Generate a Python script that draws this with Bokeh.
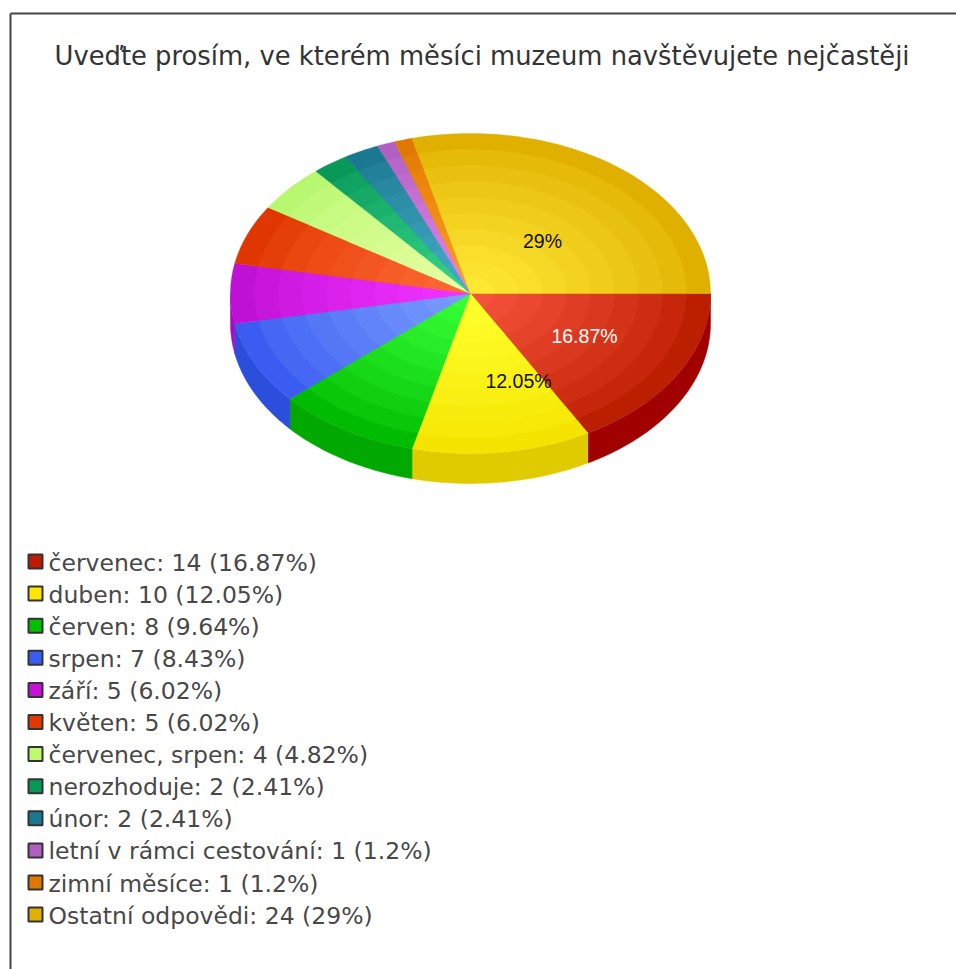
import math
from bokeh.plotting import figure
from bokeh.models import Range1d, ColumnDataSource
from bokeh.core.properties import value
from bokeh.embed import file_html
from bokeh.resources import INLINE

title = "Uveďte prosím, ve kterém měsíci muzeum navštěvujete nejčastěji"
categories = ["červenec", "duben", "červen", "srpen", "září", "květen", "červenec, srpen",
              "nerozhoduje", "únor", "letní v rámci cestování", "zimní měsíce", "Ostatní odpovědi"]
counts = [14, 10, 8, 7, 5, 5, 4, 2, 2, 1, 1, 24]
percents = ["16.87", "12.05", "9.64", "8.43", "6.02", "6.02", "4.82", "2.41", "2.41", "1.2", "1.2", "29"]
swatch_colors = ["#c01a00", "#ffe600", "#00c000", "#3a5cf5", "#c80fd8", "#e03a00", "#c0f870",
                 "#089858", "#1a7890", "#b060c0", "#e07800", "#e0b000"]
inner_colors = ["#f4523a", "#ffff2c", "#36ff36", "#7a9cff", "#f432ff", "#ff6a34", "#e8ffa4",
                "#34d488", "#44acc4", "#e084ea", "#ff9c22", "#ffe834"]
outer_colors = ["#bc1e00", "#f5e400", "#00bc00", "#3a5cf0", "#bf10d6", "#e03600", "#b8f870",
                "#089858", "#1a7890", "#b060c0", "#e07800", "#dfb000"]
side_colors = ["#a00000", "#e0cb00", "#00a800", "#2b4fdc", "#a80cc0", "#c03000", "#a0d860",
               "#068048", "#146478", "#9850a8", "#c06800", "#c09800"]
pie_labels = ["16.87%", "12.05%", "29%"]
pie_label_colors = ["#ffffff", "#111111", "#111111"]

W, H = 956, 969
CX, CY, RX, RY, DEPTH = 470, 293, 240, 160, 30
RINGS = 10

p = figure(width=W, height=H, output_backend="svg", toolbar_location=None,
           x_range=Range1d(0, W), y_range=Range1d(H, 0),
           min_border=0, outline_line_color=None, background_fill_color="white")
p.xaxis.visible = False
p.yaxis.visible = False
p.grid.visible = False


def mix(a, b, t):
    ca = [int(a[i:i + 2], 16) for i in (1, 3, 5)]
    cb = [int(b[i:i + 2], 16) for i in (1, 3, 5)]
    return "#%02x%02x%02x" % tuple(round(x + (y - x) * t) for x, y in zip(ca, cb))


def arc(a0, a1, scale=1.0, dy=0.0):
    n = max(2, int(abs(a1 - a0) * 60))
    angles = [a0 + (a1 - a0) * k / n for k in range(n + 1)]
    return ([CX + RX * scale * math.cos(a) for a in angles],
            [CY + dy + RY * scale * math.sin(a) for a in angles])


total = sum(counts)
edges = [0.0]
for c in counts:
    edges.append(edges[-1] + c / total * 2 * math.pi)

# pie side
for i in range(len(counts)):
    a0, a1 = edges[i], min(edges[i + 1], math.pi)
    if a0 >= math.pi:
        continue
    tx, ty = arc(a0, a1)
    bx, by = arc(a1, a0, dy=DEPTH)
    p.patch(tx + bx, ty + by, fill_color=side_colors[i], line_color=side_colors[i], line_width=0.5)

# pie top, drawn as stepped rings
for k in range(RINGS):
    scale = 1 - k / RINGS
    t = (k / (RINGS - 1)) ** 0.8
    for i in range(len(counts)):
        col = mix(outer_colors[i], inner_colors[i], t)
        ax, ay = arc(edges[i], edges[i + 1], scale)
        p.patch([CX] + ax, [CY] + ay, fill_color=col, line_color=col, line_width=0.4)

# slice labels
label_pos = [(584, 335), (518, 380), (542, 240)]
p.text([q[0] for q in label_pos], [q[1] for q in label_pos], text=pie_labels,
       text_color=pie_label_colors, text_font=value("Liberation Sans"), text_font_size="19.5px",
       text_align="center", text_baseline="middle")

# title
p.text([481.5], [55], text=[title], text_color="#333333", text_font=value("DejaVu Sans"),
       text_font_size="25.8px", text_align="center", text_baseline="middle")

# legend
rows = [562 + 32.1 * i for i in range(len(categories))]
legend = ColumnDataSource(dict(
    x=[35] * len(rows), y=[r - 1 for r in rows], tx=[48] * len(rows),
    ty=rows,
    color=swatch_colors,
    label=[f"{c}: {n} ({q}%)" for c, n, q in zip(categories, counts, percents)],
))
p.rect("x", "y", width=14, height=14, source=legend, fill_color="color", line_color="#333333", line_width=2)
p.text("tx", "ty", text="label", source=legend, text_color="#484848", text_font=value("DejaVu Sans"),
       text_font_size="23.5px", text_align="left", text_baseline="middle")

# frame
p.line([10, 10], [H, 13], line_color="#444444", line_width=2)
p.line([10, W], [13, 13], line_color="#444444", line_width=2)

open("out.html", "w").write(file_html(p, INLINE))
